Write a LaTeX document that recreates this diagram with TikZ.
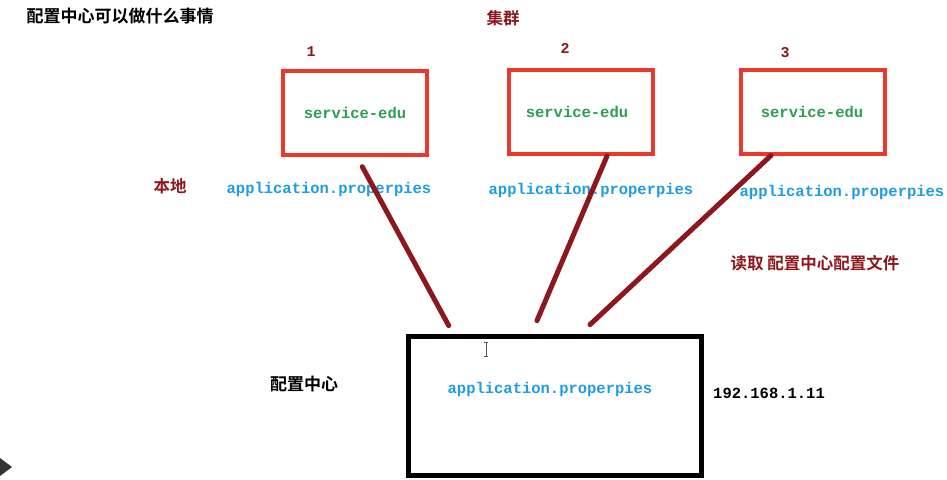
\documentclass[tikz,border=0pt]{standalone}
\usepackage{fontspec}
\newfontfamily\cjk{Noto Sans CJK SC}[BoldFont={* Bold}]
\newfontfamily\monof{Liberation Mono}
\definecolor{boxred}{RGB}{236,56,42}
\definecolor{darkred}{RGB}{140,24,28}
\definecolor{srvgreen}{RGB}{46,158,82}
\definecolor{appblue}{RGB}{32,156,226}
\tikzset{
  svcbox/.style={draw=boxred, line width=4pt, minimum width=144pt, minimum height=84pt, inner sep=0pt},
  cfgbox/.style={draw=black, line width=5pt, minimum width=293pt, minimum height=139pt, inner sep=0pt},
  svctext/.style={text=srvgreen, font=\monof\bfseries\fontsize{15.5}{16}\selectfont},
  apptext/.style={text=appblue, font=\monof\bfseries\fontsize{15.5}{16}\selectfont},
  numtext/.style={text=darkred, font=\monof\bfseries\fontsize{15}{16}\selectfont},
  redcjk/.style={text=darkred, font=\cjk\bfseries\fontsize{16.5}{18}\selectfont},
  blackcjk/.style={text=black, font=\cjk\bfseries\fontsize{17}{18}\selectfont},
  link/.style={draw=darkred, line width=5pt, line cap=round},
  inner sep=0pt
}
\begin{document}
\begin{tikzpicture}[x=1pt,y=-1pt]
\useasboundingbox[fill=white] (0,0) rectangle (947,479);
% title
\node[blackcjk] (title) at (120,16) {配置中心可以做什么事情};
\node[redcjk] (cluster) at (503,18) {集群};
% numbers
\node[numtext] (n1) at (311,52) {1};
\node[numtext] (n2) at (565,48) {2};
\node[numtext] (n3) at (785,53) {3};
% service boxes
\node[svcbox] (b1) at (355,113) {};
\node[svcbox] (b2) at (581,112) {};
\node[svcbox] (b3) at (812.5,111.5) {};
\node[svctext] (s1) at (355,113) {service-edu};
\node[svctext] (s2) at (577,112) {service-edu};
\node[svctext] (s3) at (812,112) {service-edu};
% local labels
\node[redcjk] (local) at (170,186) {本地};
\node[apptext] (a1) at (329,189) {application.properpies};
\node[apptext] (a2) at (591,190) {application.properpies};
\node[apptext] (a3) at (842,192) {application.properpies};
\node[redcjk] (read) at (815,263) {读取 配置中心配置文件};
% config center
\node[cfgbox] (cc) at (554.5,405.5) {};
\node[apptext] (ac) at (550,389) {application.properpies};
\node[blackcjk] (cclabel) at (304,384) {配置中心};
\node[text=black, font=\monof\bfseries\fontsize{15.5}{16}\selectfont] (ip) at (769,393) {192.168.1.11};
% connectors
\draw[link, shorten <=11pt, shorten >=9pt] ([xshift=2pt]b1.south) -- ([xshift=-101.5pt]cc.north);
\draw[link, shorten >=14pt] ([xshift=26pt]b2.south) -- ([xshift=-23pt]cc.north);
\draw[link, shorten >=13pt] ([xshift=-41.5pt]b3.south) -- ([xshift=26pt]cc.north);
% cursor and play marker
\draw[gray!70!black, line width=0.8pt] (486,342) -- (486,356) (484,342) -- (488,342) (484,356) -- (488,356);
\fill[black!80] (0,458) -- (12,467) -- (0,476) -- cycle;
\end{tikzpicture}
\end{document}
